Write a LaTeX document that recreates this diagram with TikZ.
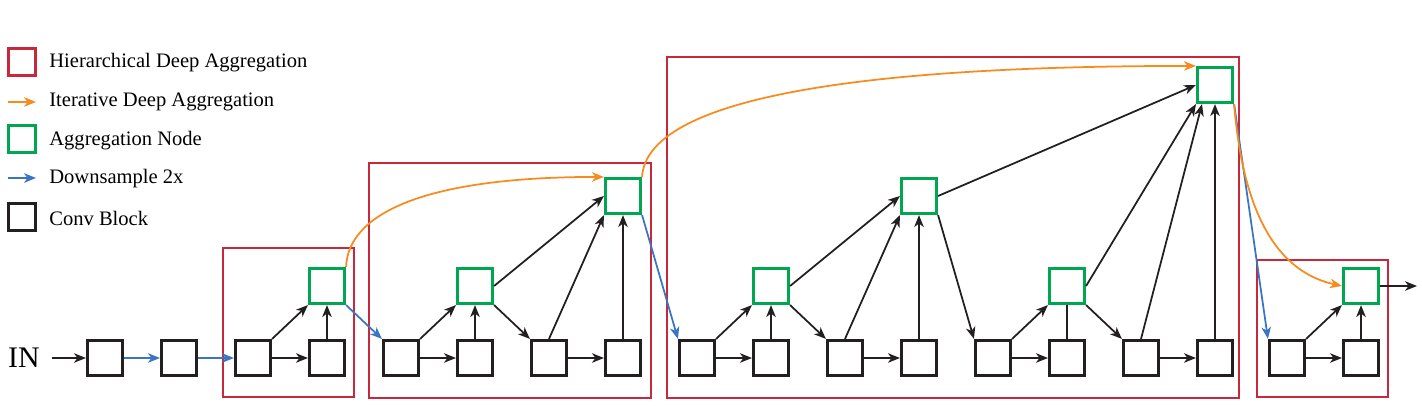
\documentclass[tikz,border=0pt]{standalone}
\usepackage{fontspec}
\setmainfont{Liberation Serif}
\usetikzlibrary{arrows.meta}
\definecolor{hdared}{RGB}{200,40,60}
\definecolor{aggreen}{RGB}{0,166,80}
\definecolor{idaorange}{RGB}{247,140,30}
\definecolor{downblue}{RGB}{58,117,196}
\definecolor{convblack}{RGB}{35,31,32}

\begin{document}
\begin{tikzpicture}[x=0.02cm,y=-0.02cm,>={Stealth[length=6.8pt,width=5.4pt,inset=2pt]},
    conv/.style={draw=convblack,line width=1.5pt,minimum size=0.71cm,inner sep=0pt},
    agg/.style={draw=aggreen,line width=1.5pt,minimum size=0.71cm,inner sep=0pt},
    hda/.style={draw=hdared,line width=1.1pt},
    link/.style={->,draw=convblack,line width=1pt},
    down/.style={->,draw=downblue,line width=1pt},
    ida/.style={->,draw=idaorange,line width=1pt},
    legtext/.style={anchor=west,inner sep=0pt,font=\fontsize{11.7}{14}\selectfont}]
    \useasboundingbox (0,0) rectangle (1422,408);

    % legend
    \node[hda,line width=1.5pt,minimum size=0.54cm,inner sep=0pt] (keyhda) at (22,62) {};
    \node[legtext] (txthda) at (49,63) {Hierarchical Deep Aggregation};
    \draw[ida] (8,102) -- (36,102);
    \node[legtext] (txtida) at (49,102) {Iterative Deep Aggregation};
    \node[agg,minimum size=0.54cm] (keyagg) at (22,139) {};
    \node[legtext] (txtagg) at (49,141) {Aggregation Node};
    \draw[down] (8,178) -- (36,178);
    \node[legtext] (txtdown) at (49,179) {Downsample 2x};
    \node[conv,minimum size=0.54cm] (keyconv) at (22,217) {};
    \node[legtext] (txtconv) at (49,218) {Conv Block};

    % aggregation boxes
    \draw[hda] (223,248) rectangle (354,397);
    \draw[hda] (369,163) rectangle (651,398);
    \draw[hda] (667,57) rectangle (1239,398);
    \draw[hda] (1257,260) rectangle (1388,397);

    % stage 1
    \node[inner sep=0pt,font=\fontsize{17}{20}\selectfont] (in) at (24,358) {IN};
    \node[conv] (c1) at (105,358) {};
    \node[conv] (c2) at (179,358) {};
    \node[conv] (c3) at (253,358) {};
    \node[conv] (c4) at (327,358) {};
    \node[agg] (a1) at (327,286) {};
    \draw[link] ([xshift=0.24cm]in.east) -- (c1);
    \draw[down] (c1) -- (c2);
    \draw[down] (c2) -- (c3);
    \draw[link] (c3) -- (c4);
    \draw[link] (c3.north east) -- (a1.south west);
    \draw[link] (c4) -- (a1);

    % stage 2
    \node[conv] (c5) at (401,358) {};
    \node[conv] (c6) at (475,358) {};
    \node[conv] (c7) at (549,358) {};
    \node[conv] (c8) at (623,358) {};
    \node[agg] (a2) at (475,286) {};
    \node[agg] (a3) at (623,196) {};
    \draw[down] (a1.south east) -- (c5.north west);
    \draw[ida] (a1.north east) .. controls +(2,-52) and +(-183,0) .. (a3.north west);
    \draw[link] (c5) -- (c6);
    \draw[link] (c5.north east) -- (a2.south west);
    \draw[link] (c6) -- (a2);
    \draw[link] (a2.south east) -- (c7.north west);
    \draw[link] (c7) -- (c8);
    \draw[link] (c7.north) -- (a3.south west);
    \draw[link] (c8) -- (a3);
    \draw[link] (a2.east) -- (a3.west);

    % stage 3
    \node[conv] (c9) at (697,358) {};
    \node[conv] (c10) at (771,358) {};
    \node[conv] (c11) at (845,358) {};
    \node[conv] (c12) at (919,358) {};
    \node[conv] (c13) at (993,358) {};
    \node[conv] (c14) at (1067,358) {};
    \node[conv] (c15) at (1141,358) {};
    \node[conv] (c16) at (1215,358) {};
    \node[agg] (a4) at (771,286) {};
    \node[agg] (a5) at (919,196) {};
    \node[agg] (a6) at (1067,286) {};
    \node[agg] (a7) at (1215,85) {};
    \draw[down] (a3.south east) -- (c9.north west);
    \draw[ida] (a3.north east) .. controls +(4,-67) and +(-395,0) .. (a7.north west);
    \draw[link] (c9) -- (c10);
    \draw[link] (c9.north east) -- (a4.south west);
    \draw[link] (c10) -- (a4);
    \draw[link] (a4.south east) -- (c11.north west);
    \draw[link] (c11) -- (c12);
    \draw[link] (c11.north) -- (a5.south west);
    \draw[link] (c12) -- (a5);
    \draw[link] (a4.east) -- (a5.west);
    \draw[link] (a5.south east) -- (c13.north west);
    \draw[link] (a5.east) -- (a7.west);
    \draw[link] (c13) -- (c14);
    \draw[link] (c13.north east) -- (a6.south west);
    \draw[convblack,line width=1pt] (c14) -- (a6);
    \draw[link] (a6.south east) -- (c15.north west);
    \draw[link] (c15) -- (c16);
    \draw[link] (c15.north) -- ([xshift=-0.26cm]a7.south);
    \draw[link] (c16) -- (a7);
    \draw[link] (a6.east) -- (a7.south west);

    % stage 4
    \node[conv] (c17) at (1287,358) {};
    \node[conv] (c18) at (1361,358) {};
    \node[agg] (a8) at (1361,286) {};
    \coordinate (out) at (1417,286);
    \draw[down] (a7.south east) -- (c17.north west);
    \draw[ida] (a7.south east) .. controls +(8,96) and +(-72,-16) .. (a8.west);
    \draw[link] (c17) -- (c18);
    \draw[link] (c17.north east) -- (a8.south west);
    \draw[link] (c18) -- (a8);
    \draw[link] (a8) -- (out);
\end{tikzpicture}
\end{document}
